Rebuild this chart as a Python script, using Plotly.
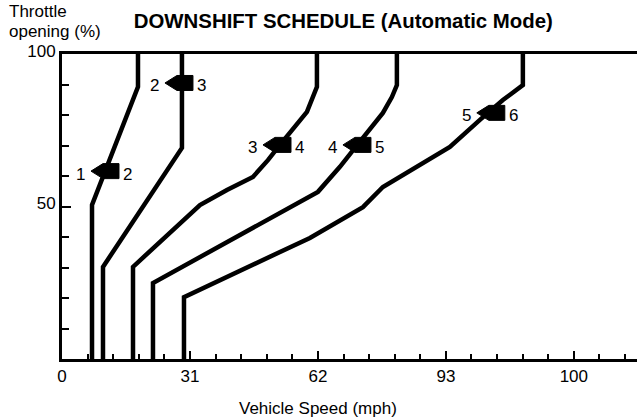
import plotly.graph_objects as go

# ---- data ----
tick_vals = [0, 31, 62, 93, 124]
tick_labels = ["0", "31", "62", "93", "100"]
y_tick_vals = [50, 100]
y_tick_labels = ["50", "100"]

speed_1_2 = [7.27, 7.27, 18.41, 18.41]
throttle_1_2 = [0, 50.5, 89.2, 100]

speed_2_3 = [9.93, 9.93, 29.06, 29.06]
throttle_2_3 = [0, 30.2, 69.2, 100]

speed_3_4 = [17.2, 17.2, 33.42, 39.96, 46.26, 49.89, 52.8, 55.22, 59.34, 61.76, 61.76]
throttle_3_4 = [0, 30.2, 50.5, 55.4, 59.7, 65.2, 70.2, 74.1, 81.0, 89.2, 100]

speed_4_5 = [22.04, 22.04, 62.0, 67.33, 70.96, 74.6, 77.74, 79.92, 81.13, 81.13]
throttle_4_5 = [0, 24.9, 54.8, 63.0, 69.2, 75.7, 80.7, 85.9, 89.8, 100]

speed_5_6 = [29.55, 29.55, 60.06, 72.9, 77.74, 83.56, 93.97, 101.24, 106.81, 111.65, 111.65]
throttle_5_6 = [0, 20.3, 39.7, 49.8, 56.4, 61.0, 69.5, 78.4, 84.9, 89.8, 100]

shift_from = ["1", "2", "3", "4", "5"]
shift_to = ["2", "3", "4", "5", "6"]
shift_speed = [9.93, 27.85, 51.6, 70.97, 103.4]
shift_throttle = [61.6, 90.5, 70.2, 70.2, 80.7]

FONT = "Liberation Sans, Arial, Helvetica, sans-serif"

fig = go.Figure()
for xs, ys in [(speed_1_2, throttle_1_2), (speed_2_3, throttle_2_3),
               (speed_3_4, throttle_3_4), (speed_4_5, throttle_4_5),
               (speed_5_6, throttle_5_6)]:
    fig.add_trace(go.Scatter(x=xs, y=ys, mode="lines",
                             line=dict(color="black", width=4.5),
                             hoverinfo="skip"))

arrow_path = "M -12,0 L 0,7.5 L 16,7.5 L 16,-7.5 L 0,-7.5 Z"
for xa, ya, a, b in zip(shift_speed, shift_throttle, shift_from, shift_to):
    fig.add_shape(type="path", xref="x", yref="y",
                  xsizemode="pixel", ysizemode="pixel",
                  xanchor=xa, yanchor=ya, path=arrow_path,
                  fillcolor="black", line=dict(color="black", width=1))
    fig.add_annotation(x=xa, y=ya, text=a, showarrow=False, xshift=-22, yshift=-3,
                       font=dict(family=FONT, size=17, color="black"))
    fig.add_annotation(x=xa, y=ya, text=b, showarrow=False, xshift=25, yshift=-3,
                       font=dict(family=FONT, size=17, color="black"))

# axis title and throttle label
fig.add_annotation(x=0.445, y=-0.161, xref="paper", yref="paper",
                   text="Vehicle Speed (mph)", showarrow=False,
                   xanchor="center", yanchor="middle",
                   font=dict(family=FONT, size=17, color="black"))
fig.add_annotation(x=-0.0957, y=1.139, xref="paper", yref="paper",
                   text="Throttle", showarrow=False,
                   xanchor="left", yanchor="middle",
                   font=dict(family=FONT, size=17, color="black"))
fig.add_annotation(x=-0.0957, y=1.073, xref="paper", yref="paper",
                   text="opening (%)", showarrow=False,
                   xanchor="left", yanchor="middle",
                   font=dict(family=FONT, size=17, color="black"))

fig.update_layout(
    width=637, height=419,
    margin=dict(l=62, r=0, t=54, b=60),
    paper_bgcolor="white", plot_bgcolor="white",
    showlegend=False,
    title=dict(text="<b>DOWNSHIFT SCHEDULE (Automatic Mode)</b>",
               xref="container", yref="container",
               x=0.539, y=0.951, xanchor="center", yanchor="middle",
               font=dict(family=FONT, size=20.4, color="black")),
    xaxis=dict(range=[0, 139.3], tickmode="array", tickvals=tick_vals,
               ticktext=tick_labels, ticks="inside", ticklen=8, tickwidth=1.5,
               tickcolor="black", showgrid=False, zeroline=False,
               showline=True, linecolor="black", linewidth=3, mirror=True,
               tickfont=dict(family=FONT, size=17, color="black"),
               minor=dict(tickmode="linear", tick0=0, dtick=6.2, ticks="inside",
                          ticklen=5, tickwidth=1.5, tickcolor="black",
                          showgrid=False),
               fixedrange=True),
    yaxis=dict(range=[0, 100], tickmode="array", tickvals=y_tick_vals,
               ticktext=y_tick_labels, ticks="inside", ticklen=9, tickwidth=1.5,
               tickcolor="black", showgrid=False, zeroline=False,
               showline=True, linecolor="black", linewidth=3, mirror=False,
               ticklabelshift=-3,
               tickfont=dict(family=FONT, size=17, color="black"),
               minor=dict(tickmode="linear", tick0=0, dtick=10, ticks="inside",
                          ticklen=7, tickwidth=1.5, tickcolor="black",
                          showgrid=False),
               fixedrange=True),
)

fig.write_html("out.html",
               config={"displayModeBar": False},
               post_script="document.body.style.margin='0';document.body.style.overflow='hidden';")
